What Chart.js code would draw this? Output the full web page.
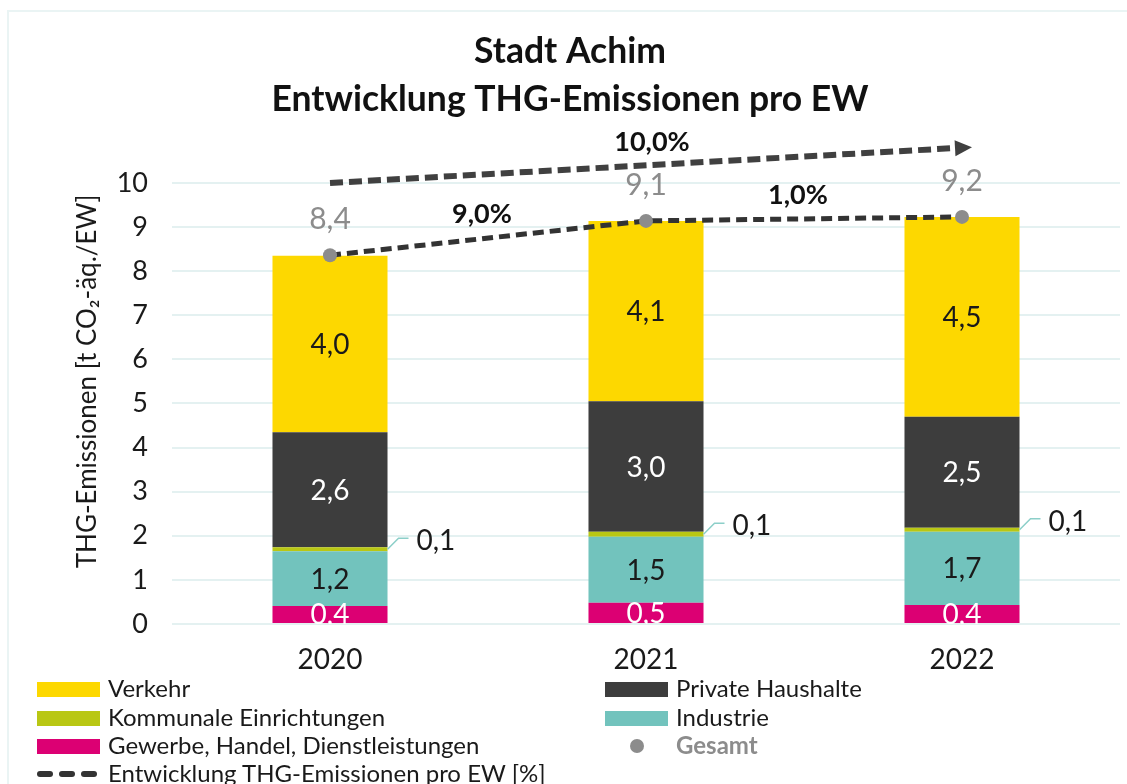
<!DOCTYPE html>
<html>
<head>
<meta charset="utf-8">
<script src="https://cdn.jsdelivr.net/npm/chart.js@4.4.1/dist/chart.umd.min.js"></script>
<style>
  html, body { margin: 0; padding: 0; background: #fff; }
  #wrap { position: relative; width: 1127px; height: 784px; overflow: hidden; font-family: Lato, "Open Sans", sans-serif; }
  #frame { position: absolute; left: 7px; top: 10px; width: 1200px; height: 900px; border: 2px solid #eaf4f4; box-sizing: border-box; }
  canvas { position: absolute; left: 0; top: 0; }
  .lg { position: absolute; font-size: 24px; color: #1a1a1a; line-height: 28px; white-space: nowrap; }
  .sw { position: absolute; width: 63px; height: 15px; }
</style>
</head>
<body>
<div id="wrap">
  <div id="frame"></div>
  <canvas id="c" width="1127" height="784"></canvas>
  <div id="legend"></div>
</div>
<script>
// ---- data ----
const categories = ['2020', '2021', '2022'];
const gewerbe    = [0.41, 0.48, 0.43];
const industrie  = [1.24, 1.50, 1.66];
const kommunale  = [0.09, 0.11, 0.09];
const privat     = [2.61, 2.96, 2.52];
const verkehr    = [4.00, 4.09, 4.53];
const gesamt     = [8.36, 9.14, 9.23];
const stepPct    = [9.0, 1.0];        // change between consecutive years
const totalPct   = 10.0;              // change 2020 -> 2022
const arrowLine  = [10.0, null, 10.8];
const yTicks     = [0, 1, 2, 3, 4, 5, 6, 7, 8, 9, 10];

const seriesNames = {
  verkehr: 'Verkehr', privat: 'Private Haushalte', kommunale: 'Kommunale Einrichtungen',
  industrie: 'Industrie', gewerbe: 'Gewerbe, Handel, Dienstleistungen', gesamt: 'Gesamt',
  trend: 'Entwicklung THG-Emissionen pro EW [%]'
};
const colors = {
  verkehr: '#fdd800', privat: '#3d3d3d', kommunale: '#b9c714', industrie: '#72c3bd',
  gewerbe: '#dc0073', gesamt: '#8c8c8c', trend: '#333333'
};
const FONT = 'Lato, "Open Sans", sans-serif';
const fmt = v => v.toFixed(1).replace('.', ',');

function barDs(key, data, labelColor, mode) {
  return {
    type: 'bar', label: seriesNames[key], data: data,
    backgroundColor: colors[key], borderWidth: 0, stack: 'main', order: 2,
    barPercentage: 0.364, categoryPercentage: 1.0,
    _labelColor: labelColor, _labelMode: mode
  };
}

const labelPlugin = {
  id: 'labels',
  afterDatasetsDraw(chart) {
    const ctx = chart.ctx, area = chart.chartArea;
    const xs = chart.scales.x, ys = chart.scales.y;
    ctx.save();
    ctx.font = '400 28px ' + FONT;
    ctx.textAlign = 'center';
    ctx.textBaseline = 'middle';
    chart.data.datasets.forEach((ds, di) => {
      if (ds.type !== 'bar') return;
      const meta = chart.getDatasetMeta(di);
      meta.data.forEach((el, i) => {
        const v = ds.data[i];
        const yc = (el.y + el.base) / 2;
        if (ds._labelMode === 'side') {
          const xr = el.x + el.width / 2;
          ctx.strokeStyle = '#8ccfc9';
          ctx.lineWidth = 1.5;
          ctx.beginPath();
          ctx.moveTo(xr, yc);
          ctx.lineTo(xr + 11, yc - 11);
          ctx.lineTo(xr + 21, yc - 11);
          ctx.stroke();
          ctx.fillStyle = '#1a1a1a';
          ctx.textAlign = 'left';
          ctx.fillText(fmt(v), xr + 29, yc - 8);
          ctx.textAlign = 'center';
        } else {
          ctx.save();
          ctx.beginPath();
          ctx.rect(area.left, area.top - 60, area.right - area.left, area.bottom - area.top + 60);
          ctx.clip();
          ctx.fillStyle = ds._labelColor;
          ctx.fillText(fmt(v), el.x, yc + 1);
          ctx.restore();
        }
      });
    });
    // Gesamt labels
    const gi = chart.data.datasets.findIndex(d => d._role === 'gesamt');
    const gmeta = chart.getDatasetMeta(gi);
    ctx.fillStyle = colors.gesamt;
    ctx.font = '400 30px ' + FONT;
    gmeta.data.forEach((pt, i) => {
      ctx.fillText(fmt(gesamt[i]), pt.x, pt.y - 36);
    });
    // step percentages
    ctx.fillStyle = '#111';
    ctx.font = '700 27px ' + FONT;
    for (let i = 0; i < stepPct.length; i++) {
      const a = gmeta.data[i], b = gmeta.data[i + 1];
      ctx.fillText(fmt(stepPct[i]) + '%', (a.x + b.x) / 2 - 6, (a.y + b.y) / 2 - 24);
    }
    // arrow
    const x0 = xs.getPixelForValue(0), x2 = xs.getPixelForValue(2);
    const y0 = ys.getPixelForValue(arrowLine[0]), y2 = ys.getPixelForValue(arrowLine[2]);
    const ang = Math.atan2(y2 - y0, x2 - x0);
    ctx.fillStyle = '#404040';
    ctx.save();
    ctx.translate(x2 + 2, y2);
    ctx.rotate(ang);
    ctx.beginPath();
    ctx.moveTo(8, 0);
    ctx.lineTo(-9, -8);
    ctx.lineTo(-9, 8);
    ctx.closePath();
    ctx.fill();
    ctx.restore();
    ctx.fillStyle = '#111';
    ctx.fillText(fmt(totalPct) + '%', (x0 + x2) / 2 + 6, (y0 + y2) / 2 - 23);
    ctx.restore();
  }
};

const chart = new Chart(document.getElementById('c'), {
  data: {
    labels: categories,
    datasets: [
      barDs('gewerbe', gewerbe, '#ffffff', 'center'),
      barDs('industrie', industrie, '#1a1a1a', 'center'),
      barDs('kommunale', kommunale, '#1a1a1a', 'side'),
      barDs('privat', privat, '#ffffff', 'center'),
      barDs('verkehr', verkehr, '#1a1a1a', 'center'),
      {
        type: 'line', label: seriesNames.gesamt, data: gesamt, _role: 'gesamt',
        stack: 'gesamt', order: 0,
        borderColor: colors.trend, borderWidth: 5, borderDash: [11, 6],
        pointRadius: 7, pointBackgroundColor: colors.gesamt, pointBorderWidth: 0,
        tension: 0, fill: false
      },
      {
        type: 'line', label: 'Pfeil', data: arrowLine, spanGaps: true,
        stack: 'arrow', order: 0,
        borderColor: '#404040', borderWidth: 6, borderDash: [13, 6],
        pointRadius: 0, tension: 0, fill: false
      }
    ]
  },
  options: {
    responsive: false,
    animation: false,
    layout: { padding: { left: 20, right: 7, top: 0, bottom: 107 } },
    plugins: {
      legend: { display: false },
      tooltip: { enabled: false },
      title: {
        display: true,
        text: ['Stadt Achim', 'Entwicklung THG-Emissionen pro EW'],
        color: '#111',
        font: { family: FONT, size: 35.5, weight: '700', lineHeight: 1.35 },
        padding: { top: 28, bottom: 15 }
      }
    },
    scales: {
      x: {
        stacked: true,
        grid: { display: false, drawTicks: false },
        border: { display: false },
        ticks: { color: '#1a1a1a', font: { family: FONT, size: 28 }, padding: 19 },
        afterFit(scale) { scale.height = 53; }
      },
      y: {
        stacked: true,
        min: 0, max: 11,
        afterBuildTicks(scale) { scale.ticks = yTicks.map(v => ({ value: v })); },
        grid: { color: '#e4f1f1', lineWidth: 2, drawTicks: false },
        border: { display: false },
        ticks: { color: '#1a1a1a', font: { family: FONT, size: 27 }, padding: 24,
                 callback: v => String(v) },
        title: {
          display: true, text: 'THG-Emissionen [t CO₂-äq./EW]', color: '#1a1a1a',
          font: { family: FONT, size: 26 }, padding: { top: 52, bottom: 4 }
        },
        afterFit(scale) { scale.width = 152; }
      }
    }
  },
  plugins: [labelPlugin]
});

// ---- HTML legend ----
const legendItems = [
  { key: 'verkehr', col: 0, row: 0, kind: 'box' },
  { key: 'privat', col: 1, row: 0, kind: 'box' },
  { key: 'kommunale', col: 0, row: 1, kind: 'box' },
  { key: 'industrie', col: 1, row: 1, kind: 'box' },
  { key: 'gewerbe', col: 0, row: 2, kind: 'box' },
  { key: 'gesamt', col: 1, row: 2, kind: 'dot' },
  { key: 'trend', col: 0, row: 3, kind: 'dash' }
];
const lg = document.getElementById('legend');
const colX = [37, 605], rowY = [689, 718, 746, 774];
legendItems.forEach(it => {
  const x = colX[it.col], y = rowY[it.row];
  if (it.kind === 'box') {
    const s = document.createElement('div');
    s.className = 'sw';
    s.style.left = x + 'px'; s.style.top = (y - 7) + 'px';
    s.style.background = colors[it.key];
    lg.appendChild(s);
  } else if (it.kind === 'dot') {
    const s = document.createElement('div');
    s.style.cssText = 'position:absolute;width:14px;height:14px;border-radius:7px;left:' + (x + 25) + 'px;top:' + (y - 7) + 'px;background:' + colors.gesamt;
    lg.appendChild(s);
  } else {
    for (let k = 0; k < 3; k++) {
      const s = document.createElement('div');
      s.style.cssText = 'position:absolute;width:16px;height:6px;border-radius:3px;left:' + (x + k * 22) + 'px;top:' + (y - 3) + 'px;background:' + colors.trend;
      lg.appendChild(s);
    }
  }
  const t = document.createElement('div');
  t.className = 'lg';
  t.textContent = seriesNames[it.key];
  t.style.left = (x + 71) + 'px';
  t.style.top = (y - 15) + 'px';
  if (it.kind === 'dot') { t.style.color = colors.gesamt; t.style.fontWeight = '700'; }
  lg.appendChild(t);
});
</script>
</body>
</html>
